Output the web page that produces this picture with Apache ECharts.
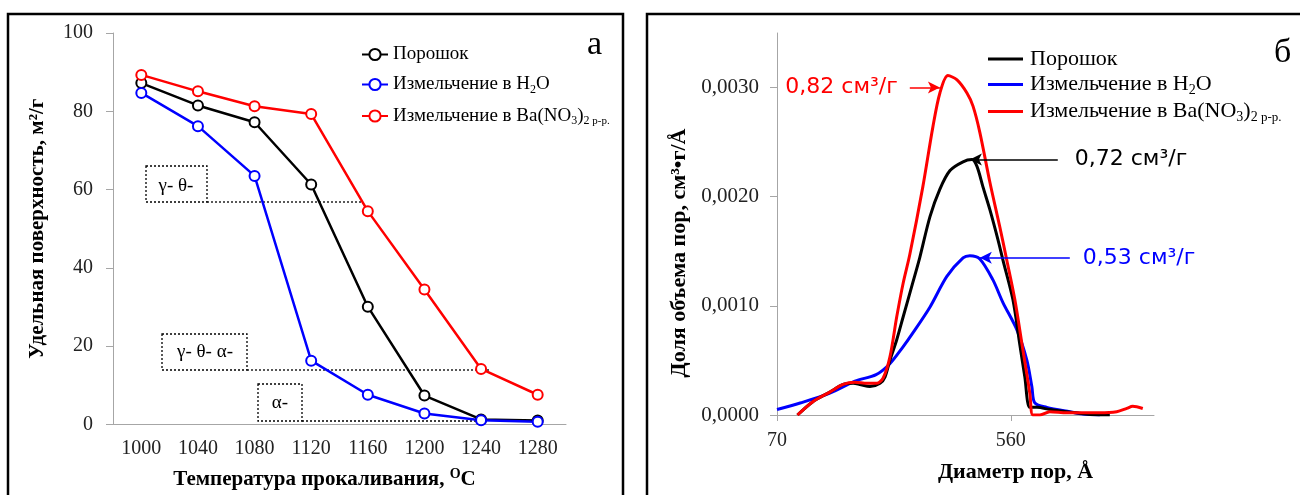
<!DOCTYPE html>
<html>
<head>
<meta charset="utf-8">
<script src="https://cdn.jsdelivr.net/npm/echarts@6/dist/echarts.min.js"></script>
<style>
  html, body { margin: 0; padding: 0; background: #fff; }
  #chart { width: 1300px; height: 495px; }
</style>
</head>
<body>
<div id="chart"></div>
<script>
// ---- данные: панель а (удельная поверхность) ----
var temps = ['1000', '1040', '1080', '1120', '1160', '1200', '1240', '1280'];
var surfPowder = [87.2, 81.5, 77.2, 61.3, 30.1, 7.4, 1.3, 1.0];
var surfH2O = [84.7, 76.2, 63.5, 16.3, 7.6, 2.8, 1.1, 0.7];
var surfBa = [89.3, 85.1, 81.3, 79.3, 54.5, 34.5, 14.2, 7.6];

// ---- данные: панель б (распределение пор) ----
var diamPowder = [84, 96, 112, 126, 138, 146, 160, 175, 183, 191, 203, 215, 234, 249, 273, 298, 326, 366, 396, 414, 437, 465, 499, 522, 570, 607, 634, 663, 706, 792, 921, 1235, 1350];
var volPowder = [0, 0.00012, 0.00021, 0.00028, 0.00029, 0.00028, 0.00026, 0.00029, 0.00035, 0.00050, 0.00069, 0.00090, 0.00121, 0.00144, 0.00182, 0.00207, 0.00224, 0.00232, 0.00234, 0.00228, 0.00209, 0.00188, 0.00161, 0.00142, 0.00106, 0.00064, 0.00035, 0.00007, 0.00007, 0.00005, 0.00003, 0, 0];

var diamH2O = [70, 86, 112, 140, 169, 191, 214, 234, 273, 317, 366, 389, 425, 477, 522, 591, 646, 675, 693, 771, 946, 1062, 1235];
var volH2O = [0.00005, 0.00011, 0.00020, 0.00031, 0.00037, 0.00047, 0.00062, 0.00075, 0.00099, 0.00127, 0.00144, 0.00146, 0.00143, 0.00124, 0.00103, 0.00078, 0.00050, 0.00026, 0.00011, 0.00007, 0.00003, 0.00001, 0];

var diamBa = [84, 96, 112, 126, 140, 156, 170, 180, 191, 203, 215, 228, 256, 280, 298, 320, 347, 379, 400, 425, 465, 508, 540, 580, 623, 663, 681, 725, 792, 921, 1235, 1436, 1570, 1656, 1810];
var volBa = [0, 0.00012, 0.00021, 0.00028, 0.00030, 0.00029, 0.00029, 0.00034, 0.00053, 0.00090, 0.00121, 0.00147, 0.00209, 0.00264, 0.00295, 0.00311, 0.00307, 0.00295, 0.00283, 0.00259, 0.00213, 0.00172, 0.00142, 0.00106, 0.00060, 0.00020, 0, 0, 0.00003, 0.00002, 0.00002, 0.00003, 0.00006, 0.00008, 0.00006];

var xTicksRight = [70, 560];
var yTicksRight = [0, 0.001, 0.002, 0.003];

// стрелки-подписи: [от, до, уровень]
var arrowBa = [228, 298, 0.0030];
var arrowPowder = [850, 389, 0.00234];
var arrowH2O = [946, 425, 0.00144];

var namePowder = 'Порошок';
var nameH2O = 'Измельчение в H2O';
var nameBa = 'Измельчение в Ba(NO3)2 р-р.';

var serif = 'Liberation Serif';
var sans = 'DejaVu Sans';

function zip(xs, ys) {
  return xs.map(function (x, i) { return [x, ys[i]]; });
}

function legendFmt(name) {
  if (name === nameH2O) return '{t|Измельчение в H}{s|2}{t|O}';
  if (name === nameBa) return '{t|Измельчение в Ba(NO}{s|3}{t|)}{s|2}{pp| р-р.}';
  return '{t|' + name + '}';
}

function makeRich(size) {
  return {
    t: { fontFamily: serif, fontSize: size, lineHeight: size + 3, color: '#000' },
    s: { fontFamily: serif, fontSize: Math.round(size * 0.65), lineHeight: 12, verticalAlign: 'bottom', color: '#000' },
    pp: { fontFamily: serif, fontSize: Math.round(size * 0.58), lineHeight: 11, verticalAlign: 'bottom', color: '#000' }
  };
}

function arrowLine(arr, color, text, dist) {
  return {
    silent: true,
    animation: false,
    symbol: ['none', 'arrow'],
    symbolSize: [9, 12],
    lineStyle: { color: color, width: 1.5, type: 'solid' },
    label: {
      show: true,
      position: 'start',
      distance: dist,
      formatter: text,
      color: color,
      fontFamily: sans,
      fontSize: 22
    },
    data: [[{ coord: [arr[0], arr[2]] }, { coord: [arr[1], arr[2]] }]]
  };
}

var myChart = echarts.init(document.getElementById('chart'));

var axisGray = '#a6a6a6';

var option = {
  animation: false,
  backgroundColor: '#fff',
  grid: [
    { left: 113, top: 33, width: 453, height: 394 },
    { left: 777, top: 33, width: 377, height: 382 }
  ],
  xAxis: [
    {
      gridIndex: 0,
      type: 'category',
      data: temps,
      boundaryGap: true,
      axisLine: { lineStyle: { color: axisGray } },
      axisTick: { length: 5, lineStyle: { color: axisGray } },
      axisLabel: { margin: 14, color: '#222', fontFamily: serif, fontSize: 20 },
      name: '{t|Температура прокаливания, }{sup|O}{t|C}',
      nameLocation: 'middle',
      nameGap: 43,
      nameTextStyle: {
        padding: [0, 30, 0, 0],
        rich: {
          t: { fontFamily: serif, fontSize: 21, fontWeight: 'bold', color: '#000', lineHeight: 24 },
          sup: { fontFamily: serif, fontSize: 14, fontWeight: 'bold', color: '#000', lineHeight: 14, verticalAlign: 'top' }
        }
      }
    },
    {
      gridIndex: 1,
      type: 'log',
      logBase: 8,
      min: 70,
      max: 2000,
      axisLine: { lineStyle: { color: axisGray } },
      axisTick: { length: 6, customValues: xTicksRight, lineStyle: { color: axisGray } },
      axisLabel: {
        margin: 16, color: '#222', fontFamily: serif, fontSize: 20,
        customValues: xTicksRight,
        formatter: function (v) { return Math.round(v); }
      },
      splitLine: { show: false },
      name: 'Диаметр пор, Å',
      nameLocation: 'middle',
      nameGap: 46,
      nameTextStyle: { fontFamily: serif, fontSize: 22, fontWeight: 'bold', color: '#000', padding: [0, 0, 0, 100] }
    }
  ],
  yAxis: [
    {
      gridIndex: 0,
      type: 'value',
      min: 0,
      max: 100,
      interval: 20,
      axisLine: { show: true, lineStyle: { color: axisGray } },
      axisTick: { show: true, length: 7, lineStyle: { color: axisGray } },
      axisLabel: { margin: 20, color: '#222', fontFamily: serif, fontSize: 20 },
      splitLine: { show: false },
      name: 'Удельная поверхность, м²/г',
      nameLocation: 'middle',
      nameGap: 65,
      nameTextStyle: { fontFamily: serif, fontSize: 21, fontWeight: 'bold', color: '#000' }
    },
    {
      gridIndex: 1,
      type: 'value',
      min: 0,
      max: 0.0035,
      axisLine: { show: true, lineStyle: { color: axisGray } },
      axisTick: { show: true, length: 7, customValues: yTicksRight, lineStyle: { color: axisGray } },
      axisLabel: {
        margin: 18, color: '#222', fontFamily: serif, fontSize: 21,
        customValues: yTicksRight,
        formatter: function (v) { return v.toFixed(4).replace('.', ','); }
      },
      splitLine: { show: false },
      name: 'Доля объема пор, см³•г/Å',
      nameLocation: 'middle',
      nameGap: 87,
      nameTextStyle: { fontFamily: serif, fontSize: 22, fontWeight: 'bold', color: '#000', padding: [0, 58, 0, 0] }
    }
  ],
  legend: [
    {
      left: 356,
      top: 40,
      orient: 'vertical',
      selectedMode: false,
      itemWidth: 26,
      itemHeight: 14,
      itemGap: 11,
      data: [namePowder, nameH2O, nameBa],
      formatter: legendFmt,
      textStyle: { rich: makeRich(19) }
    },
    {
      left: 983,
      top: 43,
      orient: 'vertical',
      selectedMode: false,
      itemWidth: 35,
      itemHeight: 3,
      itemGap: 3.5,
      data: [
        { name: namePowder, icon: 'rect' },
        { name: nameH2O, icon: 'rect' },
        { name: nameBa, icon: 'rect' }
      ],
      formatter: legendFmt,
      textStyle: { padding: [0, 0, 0, 2], rich: makeRich(22) }
    }
  ],
  series: [
    {
      name: namePowder, type: 'line', xAxisIndex: 0, yAxisIndex: 0,
      data: surfPowder, symbol: 'emptyCircle', symbolSize: 10,
      color: '#000', lineStyle: { width: 2.5 }, itemStyle: { borderWidth: 1.5 }
    },
    {
      name: nameBa, type: 'line', xAxisIndex: 0, yAxisIndex: 0,
      data: surfBa, symbol: 'emptyCircle', symbolSize: 10,
      color: '#ff0000', lineStyle: { width: 2.5 }, itemStyle: { borderWidth: 1.5 }
    },
    {
      name: nameH2O, type: 'line', xAxisIndex: 0, yAxisIndex: 0,
      data: surfH2O, symbol: 'emptyCircle', symbolSize: 10,
      color: '#0000ff', lineStyle: { width: 2.5 }, itemStyle: { borderWidth: 1.5 }
    },
    {
      name: nameH2O, type: 'line', xAxisIndex: 1, yAxisIndex: 1,
      data: zip(diamH2O, volH2O), showSymbol: false, smooth: 0.3,
      color: '#0000ff', lineStyle: { width: 3 },
      markLine: arrowLine(arrowH2O, '#0000ff', '0,53 см³/г', 13)
    },
    {
      name: namePowder, type: 'line', xAxisIndex: 1, yAxisIndex: 1,
      data: zip(diamPowder, volPowder), showSymbol: false, smooth: 0.3,
      color: '#000', lineStyle: { width: 3 },
      markLine: arrowLine(arrowPowder, '#000', '0,72 см³/г', 17)
    },
    {
      name: nameBa, type: 'line', xAxisIndex: 1, yAxisIndex: 1,
      data: zip(diamBa, volBa), showSymbol: false, smooth: 0.3,
      color: '#ff0000', lineStyle: { width: 3 },
      markLine: arrowLine(arrowBa, '#ff0000', '0,82 см³/г', 12)
    }
  ],
  graphic: [
    // рамки панелей
    { type: 'rect', shape: { x: 8, y: 14, width: 615, height: 520 }, style: { fill: 'none', stroke: '#000', lineWidth: 2.5 } },
    { type: 'rect', shape: { x: 647, y: 14, width: 700, height: 520 }, style: { fill: 'none', stroke: '#000', lineWidth: 2.5 } },
    // буквы панелей
    { type: 'text', left: 587, top: 28, style: { text: 'а', font: '34px "Liberation Serif"', fill: '#000' } },
    { type: 'text', left: 1274, top: 36, style: { text: 'б', font: '34px "Liberation Serif"', fill: '#000' } },
    // фазовые области
    { type: 'rect', shape: { x: 146, y: 166, width: 61, height: 36 }, style: { fill: 'none', stroke: '#000', lineWidth: 1.3, lineDash: [2, 2] } },
    { type: 'line', shape: { x1: 207, y1: 202, x2: 361, y2: 202 }, style: { stroke: '#000', lineWidth: 1.3, lineDash: [2, 2] } },
    { type: 'text', x: 176, y: 186, style: { text: 'γ- θ-', font: '19px "Liberation Serif"', fill: '#000', align: 'center', verticalAlign: 'middle' } },
    { type: 'rect', shape: { x: 162, y: 334, width: 85, height: 36 }, style: { fill: 'none', stroke: '#000', lineWidth: 1.3, lineDash: [2, 2] } },
    { type: 'line', shape: { x1: 247, y1: 370, x2: 490, y2: 370 }, style: { stroke: '#000', lineWidth: 1.3, lineDash: [2, 2] } },
    { type: 'text', x: 205, y: 352, style: { text: 'γ- θ- α-', font: '19px "Liberation Serif"', fill: '#000', align: 'center', verticalAlign: 'middle' } },
    { type: 'rect', shape: { x: 258, y: 384, width: 44, height: 37 }, style: { fill: 'none', stroke: '#000', lineWidth: 1.3, lineDash: [2, 2] } },
    { type: 'line', shape: { x1: 302, y1: 421, x2: 480, y2: 421 }, style: { stroke: '#000', lineWidth: 1.3, lineDash: [2, 2] } },
    { type: 'text', x: 280, y: 403, style: { text: 'α-', font: '19px "Liberation Serif"', fill: '#000', align: 'center', verticalAlign: 'middle' } }
  ]
};

myChart.setOption(option);
window.addEventListener('resize', function () {
  myChart.resize();
});
</script>
</body>
</html>
